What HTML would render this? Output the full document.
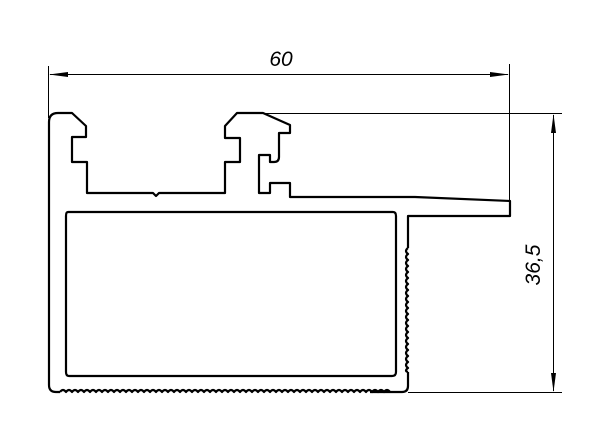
<!DOCTYPE html>
<html><head><style>html,body{margin:0;padding:0;background:#fff;width:600px;height:440px;overflow:hidden}</style></head>
<body>
<svg width="600" height="440" viewBox="0 0 600 440" xmlns="http://www.w3.org/2000/svg">
<g stroke="#000" fill="none" stroke-width="1">
<line x1="48.5" y1="66" x2="48.5" y2="118"/>
<line x1="509.5" y1="64" x2="509.5" y2="200"/>
<line x1="50" y1="74.5" x2="508" y2="74.5"/>
<line x1="264" y1="113.5" x2="562" y2="113.5"/>
<line x1="408" y1="392.5" x2="562" y2="392.5"/>
<line x1="553.5" y1="115" x2="553.5" y2="391"/>
</g>
<g fill="#000">
<polygon points="49,74.5 68,72 68,77"/>
<polygon points="509,74.5 490,72 490,77"/>
<polygon points="553.5,114 551,133 556,133"/>
<polygon points="553.5,392 551,373 556,373"/>
</g>
<g stroke="#000" fill="none" stroke-width="2.2" stroke-linejoin="round">
<path d="M49,122 Q49,113 58,113 L72,113 L86,126 L86,137 L72,137 L72,162 L87,162 L87,193 L153,193 L156,196 L159,193 L225,193 L225,162 L240,162 L240,138 L225,138 L225,126 L237,113 L263,113 L290,125 L290,133 L279,133 L279,157 Q279,162 274,162 L270,162 L270,155 L259,155 L259,193 L270,193 L270,183 L290,183 L290,197 L415,197 L510,201 L510,216 L408,216 L408,248 M408,372 L408,386 Q408,392 402,392 L370,392 M60,392 L56,392 Q49,392 49,385 L49,122"/>
<path d="M68,212 L393,212 Q396,212 396,216 L396,372 Q396,376 392,376 L69,376 Q66,376 66,372 L66,216 Q66,212 68,212 Z"/>
<path d="M60,392 q3,-4 6,0 q3,-4 6,0 q3,-4 6,0 q3,-4 6,0 q3,-4 6,0 q3,-4 6,0 q3,-4 6,0 q3,-4 6,0 q3,-4 6,0 q3,-4 6,0 q3,-4 6,0 q3,-4 6,0 q3,-4 6,0 q3,-4 6,0 q3,-4 6,0 q3,-4 6,0 q3,-4 6,0 q3,-4 6,0 q3,-4 6,0 q3,-4 6,0 q3,-4 6,0 q3,-4 6,0 q3,-4 6,0 q3,-4 6,0 q3,-4 6,0 q3,-4 6,0 q3,-4 6,0 q3,-4 6,0 q3,-4 6,0 q3,-4 6,0 q3,-4 6,0 q3,-4 6,0 q3,-4 6,0 q3,-4 6,0 q3,-4 6,0 q3,-4 6,0 q3,-4 6,0 q3,-4 6,0 q3,-4 6,0 q3,-4 6,0 q3,-4 6,0 q3,-4 6,0 q3,-4 6,0 q3,-4 6,0 q3,-4 6,0 q3,-4 6,0 q3,-4 6,0 q3,-4 6,0 q3,-4 6,0 q3,-4 6,0 q3,-4 6,0 q3,-4 6,0 q3,-4 6,0 q3,-4 6,0 q3,-4 6,0"/>
<path d="M408,248 q-4,3 0,6 q-4,3 0,6 q-4,3 0,6 q-4,3 0,6 q-4,3 0,6 q-4,3 0,6 q-4,3 0,6 q-4,3 0,6 q-4,3 0,6 q-4,3 0,6 q-4,3 0,6 q-4,3 0,6 q-4,3 0,6 q-4,3 0,6 q-4,3 0,6 q-4,3 0,6 q-4,3 0,6 q-4,3 0,6 q-4,3 0,6 q-4,3 0,6 q-4,3 0,4"/>
</g>
<text x="281" y="66" font-family="Liberation Sans Narrow, Liberation Sans, sans-serif" font-style="italic" font-size="21" text-anchor="middle">60</text>
<text transform="translate(540,265) rotate(-90)" font-family="Liberation Sans Narrow, Liberation Sans, sans-serif" font-style="italic" font-size="21" text-anchor="middle">36,5</text>
</svg>
</body></html>
